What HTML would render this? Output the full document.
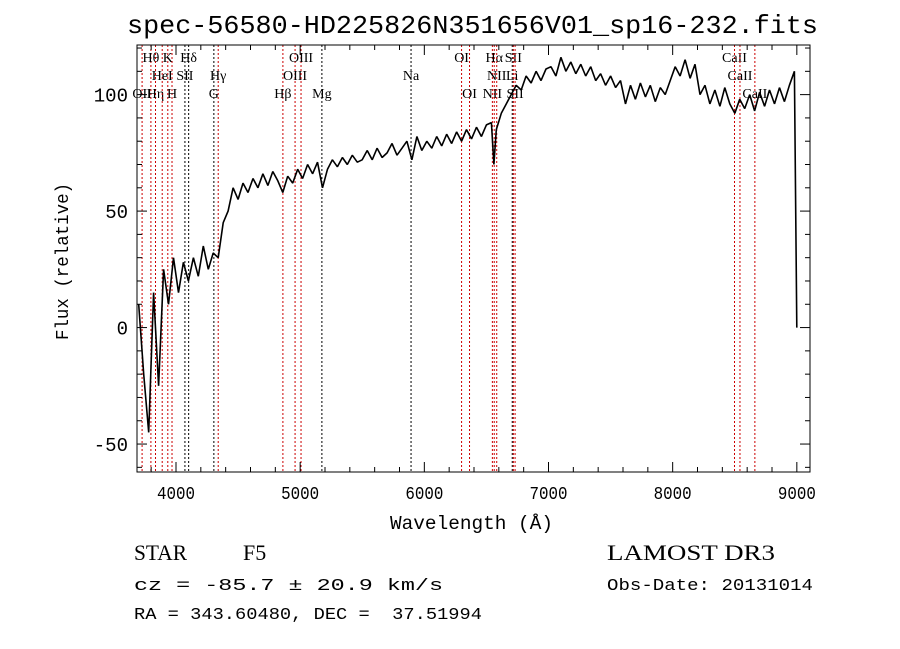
<!DOCTYPE html>
<html><head><meta charset="utf-8"><style>
body{margin:0;background:#fff;width:900px;height:649px;overflow:hidden}
svg{display:block}
text{white-space:pre}
</style></head><body>
<svg id="chart" width="900" height="649" xmlns="http://www.w3.org/2000/svg">
<rect width="900" height="649" fill="#fff"/>
<text x="127" y="33" textLength="691" lengthAdjust="spacingAndGlyphs" font-family="Liberation Mono, monospace" font-size="26">spec-56580-HD225826N351656V01_sp16-232.fits</text>
<g id="lines"></g>
<g id="axes"></g>
<path id="spec" fill="none" stroke="#000" stroke-width="1.6" stroke-linejoin="bevel"/>
<text x="390" y="529" textLength="163" lengthAdjust="spacingAndGlyphs" font-family="Liberation Mono, monospace" font-size="19">Wavelength (Å)</text>
<text transform="translate(68,340) rotate(-90)" textLength="157" lengthAdjust="spacingAndGlyphs" font-family="Liberation Mono, monospace" font-size="18">Flux (relative)</text>
<text x="134" y="560" textLength="53" lengthAdjust="spacingAndGlyphs" font-family="Liberation Serif, serif" font-size="22">STAR</text>
<text x="243" y="560" font-family="Liberation Serif, serif" font-size="22">F5</text>
<text x="607" y="560" textLength="168" lengthAdjust="spacingAndGlyphs" font-family="Liberation Serif, serif" font-size="22">LAMOST DR3</text>
<text x="134" y="590" textLength="309" lengthAdjust="spacingAndGlyphs" font-family="Liberation Mono, monospace" font-size="17">cz = -85.7 ± 20.9 km/s</text>
<text x="607" y="590" textLength="206" lengthAdjust="spacingAndGlyphs" font-family="Liberation Mono, monospace" font-size="17">Obs-Date: 20131014</text>
<text x="134" y="619" textLength="348" lengthAdjust="spacingAndGlyphs" font-family="Liberation Mono, monospace" font-size="17">RA = 343.60480, DEC =  37.51994</text>
</svg>
<script>
const wavelengths=[3700,3740,3780,3820,3860,3900,3940,3980,4020,4060,4100,4140,4180,4220,4260,4300,4340,4380,4420,4460,4500,4540,4580,4620,4660,4700,4740,4780,4820,4860,4900,4940,4980,5020,5060,5100,5140,5180,5220,5260,5300,5340,5380,5420,5460,5500,5540,5580,5620,5660,5700,5740,5780,5820,5860,5900,5940,5980,6020,6060,6100,6140,6180,6220,6260,6300,6340,6380,6420,6460,6500,6540,6560,6580,6620,6660,6700,6740,6780,6820,6860,6900,6940,6980,7020,7060,7100,7140,7180,7220,7260,7300,7340,7380,7420,7460,7500,7540,7580,7620,7660,7700,7740,7780,7820,7860,7900,7940,7980,8020,8060,8100,8140,8180,8220,8260,8300,8340,8380,8420,8460,8500,8540,8580,8620,8660,8700,8740,8780,8820,8860,8900,8940,8980,9000];
const flux=[10,-20,-45,15,-25,25,10,30,15,28,20,30,22,35,25,32,30,45,50,60,55,62,58,64,60,66,61,67,63,58,65,62,68,64,70,66,71,60,68,72,69,73,70,74,71,72,76,72,77,73,75,79,74,77,80,72,82,76,80,77,82,78,83,79,84,80,85,81,86,82,87,88,70,85,92,96,100,104,102,108,105,110,106,111,112,108,116,110,114,109,113,108,112,106,109,104,108,103,106,96,104,98,105,99,104,97,103,100,106,112,108,115,107,113,100,104,96,102,95,103,96,92,98,94,100,93,101,95,102,96,103,97,104,110,0];
const lineWaves=[3727,3798,3835,3889,3934,3968,4072,4102,4305,4340,4861,4959,5007,5175,5893,6300,6364,6548,6563,6583,6708,6717,6731,8498,8542,8662];
const lineNames=["OII","Hθ","Hη","HeI","K","H","SII","Hδ","G","Hγ","Hβ","OIII","OIII","Mg","Na","OI","OI","NII","Hα","NII","Li","SII","SII","CaII","CaII","CaII"];
const lineRows=[2,0,2,1,0,2,1,0,2,1,2,1,0,2,1,0,2,2,0,1,1,0,2,0,1,2];
const lineEmission=[1,1,1,1,1,1,0,0,0,1,1,1,1,0,0,1,1,1,1,1,0,1,1,1,1,1];
const xTicks=[4000,5000,6000,7000,8000,9000];
const yTicks=[-50,0,50,100];
const X0=137,X1=810,Y0=45,Y1=472;
const WMIN=3686,WMAX=9106,FMIN=-62,FMAX=121.3;
const sx=w=>X0+(w-WMIN)/(WMAX-WMIN)*(X1-X0);
const sy=f=>Y1-(f-FMIN)/(FMAX-FMIN)*(Y1-Y0);
const NS="http://www.w3.org/2000/svg";
function mk(tag,attrs,parent){const e=document.createElementNS(NS,tag);for(const k in attrs)e.setAttribute(k,attrs[k]);parent.appendChild(e);return e;}
const ax=document.getElementById('axes');
const frame=mk('rect',{x:X0,y:Y0,width:X1-X0,height:Y1-Y0,fill:'none',stroke:'#000','stroke-width':1},ax);


for(let w=3800;w<=9100;w+=200){const x=sx(w);const maj=w%1000===0;const L=maj?10:5;
 mk('line',{x1:x,y1:Y1,x2:x,y2:Y1-L,stroke:'#000'},ax);mk('line',{x1:x,y1:Y0,x2:x,y2:Y0+L,stroke:'#000'},ax);}
xTicks.forEach(w=>{const t=mk('text',{x:sx(w)-19,y:Y1+27,textLength:38,lengthAdjust:'spacingAndGlyphs','font-family':'Liberation Mono, monospace','font-size':18},ax);t.textContent=w;
 
 });
for(let f=-60;f<=120;f+=10){const y=sy(f);const maj=f%50===0;const L=maj?10:5;
 mk('line',{x1:X0,y1:y,x2:X0+L,y2:y,stroke:'#000'},ax);mk('line',{x1:X1,y1:y,x2:X1-L,y2:y,stroke:'#000'},ax);}
yTicks.forEach(f=>{const t=mk('text',{x:X0-9,y:sy(f)+7,'text-anchor':'end','font-family':'Liberation Mono, monospace','font-size':19},ax);t.textContent=f;
 
 });
const lg=document.getElementById('lines');
lineWaves.forEach((w,i)=>{const x=sx(w);
 const l=mk('line',{x1:x,y1:Y0,x2:x,y2:Y1,stroke:lineEmission[i]?'#c00':'#000','stroke-width':1,'stroke-dasharray':'2,2'},lg);
 
 
 const t=mk('text',{x:x,y:62+lineRows[i]*18,'text-anchor':'middle','font-family':'Liberation Serif, serif','font-size':14},lg);t.textContent=lineNames[i];
 
 });
let d='';wavelengths.forEach((w,i)=>{d+=(i?'L':'M')+sx(w).toFixed(1)+','+sy(flux[i]).toFixed(1);});
document.getElementById('spec').setAttribute('d',d);
</script>
</body></html>
